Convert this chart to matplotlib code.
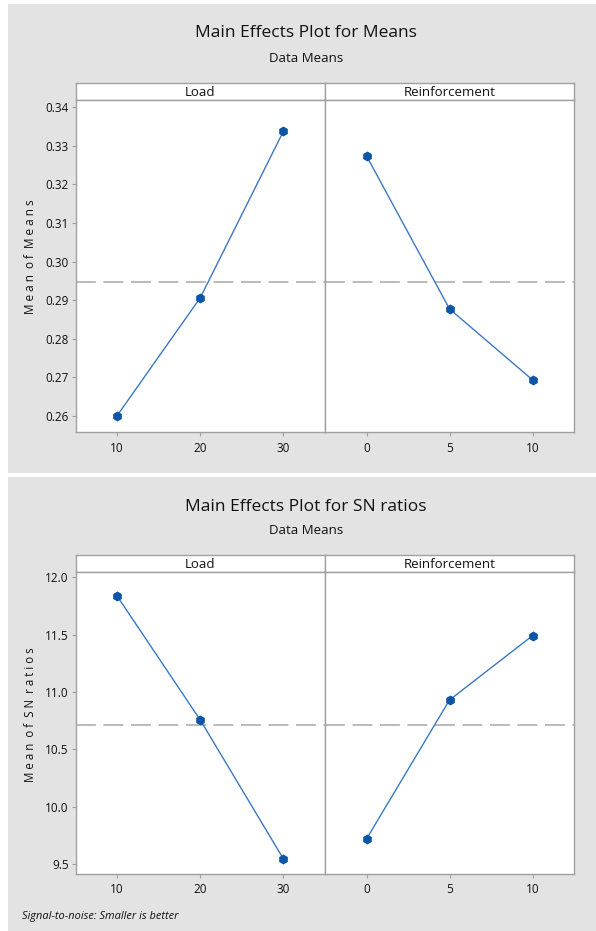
import matplotlib
matplotlib.use("Agg")
import matplotlib.pyplot as plt
from matplotlib.patches import Rectangle

plt.rcParams['font.family'] = ['Open Sans', 'DejaVu Sans']

# ---- data ----
load_levels = ["10", "20", "30"]
reinf_levels = ["0", "5", "10"]
means_load = [0.2600, 0.2906, 0.3338]
means_reinf = [0.3274, 0.2877, 0.2693]
sn_load = [11.837, 10.756, 9.544]
sn_reinf = [9.718, 10.930, 11.491]
factor_names = ["Load", "Reinforcement"]
means_ticks = [0.26, 0.27, 0.28, 0.29, 0.30, 0.31, 0.32, 0.33, 0.34]
sn_ticks = [9.5, 10.0, 10.5, 11.0, 11.5, 12.0]

W, H = 596, 931
fig = plt.figure(figsize=(W / 100, H / 100), dpi=100)
fig.patch.set_facecolor('white')

GRAY = '#e3e3e3'
SPINE = '#a0a0a0'
LINE = '#3b78c2'
MARK = '#0a55a5'
TXT = '#111111'


def fx(px):
    return px / W


def fy(py):
    return 1 - py / H


# panel backgrounds
for (y0, y1) in [(4, 473.3), (477.3, 931)]:
    fig.patches.append(Rectangle((fx(8), fy(y1)), fx(596) - fx(8), fy(y0) - fy(y1),
                                 transform=fig.transFigure, facecolor=GRAY,
                                 edgecolor='none', zorder=-10))


def draw_panel(top_title, title_y, sub_y, head_top, ax_top, ax_bot, ylabel, ylab_fs,
               ylim, yticks, yfmt, data_pairs, ylab_y, footnote=None):
    fig.text(fx(306), fy(title_y), top_title, ha='center', va='center',
             fontsize=12.5, color=TXT)
    fig.text(fx(306), fy(sub_y), "Data Means", ha='center', va='center',
             fontsize=9.5, color=TXT)
    lefts = [75.5, 325]
    rights = [325, 574]
    mean_val = sum(data_pairs[0]) / len(data_pairs[0])
    for i in range(2):
        x0, x1 = lefts[i], rights[i]
        # strip header
        hax = fig.add_axes([fx(x0), fy(ax_top), fx(x1) - fx(x0), fy(head_top) - fy(ax_top)])
        hax.set_facecolor('white')
        hax.set_xticks([]); hax.set_yticks([])
        for s in hax.spines.values():
            s.set_color(SPINE); s.set_linewidth(1)
        hax.text(0.5, 0.45, factor_names[i], ha='center', va='center', fontsize=9.5,
                 color=TXT, transform=hax.transAxes)
        ax = fig.add_axes([fx(x0), fy(ax_bot), fx(x1) - fx(x0), fy(ax_top) - fy(ax_bot)])
        ax.set_facecolor('white')
        levels = load_levels if i == 0 else reinf_levels
        xs = list(range(len(levels)))
        ax.axhline(mean_val, color='#a8a8a8', lw=1.1, ls=(0, (13, 5)), zorder=1)
        ax.plot(xs, data_pairs[i], color=LINE, lw=1.0, zorder=2)
        ax.plot(xs, data_pairs[i], ls='none', marker='h', ms=6, color=MARK,
                mec=MARK, zorder=3)
        ax.set_xlim(-0.5, 2.5)
        ax.set_ylim(*ylim)
        ax.set_xticks(xs)
        ax.set_xticklabels(levels, fontsize=8.5, color=TXT)
        for s in ax.spines.values():
            s.set_color(SPINE); s.set_linewidth(1)
        ax.tick_params(axis='x', length=3, width=0.8, color=SPINE, pad=4)
        if i == 0:
            ax.set_yticks(yticks)
            ax.set_yticklabels([yfmt.format(v) for v in yticks], fontsize=8.5, color=TXT)
            ax.tick_params(axis='y', length=3, width=0.8, color=SPINE, pad=2)
        else:
            ax.set_yticks([])
    fig.text(fx(31), fy(ylab_y), ylabel, rotation=90, ha='center', va='center',
             fontsize=ylab_fs, color=TXT)
    if footnote:
        fig.text(fx(22), fy(916), footnote, ha='left', va='center', fontsize=7.9,
                 style='italic', color=TXT)


draw_panel("Main Effects Plot for Means", 33, 59, 83.3, 100, 432.3,
           "M e a n  o f  M e a n s", 8.5, (0.2557, 0.3419), means_ticks, "{:.2f}",
           [means_load, means_reinf], 256.7)
draw_panel("Main Effects Plot for SN ratios", 507.3, 531, 555, 572.3, 873.7,
           "M e a n  o f  S N  r a t i o s", 8.3, (9.415, 12.044), sn_ticks, "{:.1f}",
           [sn_load, sn_reinf], 715, footnote="Signal-to-noise: Smaller is better")

fig.savefig("out.png", dpi=100, facecolor='white')
